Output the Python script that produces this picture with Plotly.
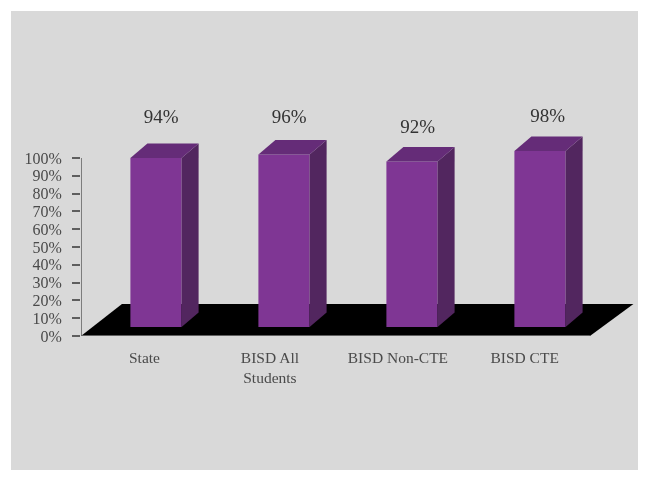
import plotly.graph_objects as go

categories = ["State", "BISD All<br>Students", "BISD Non-CTE", "BISD CTE"]
values = [94, 96, 92, 98]
value_labels = ["94%", "96%", "92%", "98%"]
y_ticks = list(range(0, 101, 10))
y_tick_labels = [f"{v}%" for v in y_ticks]

# layout of the pseudo-3D scene, in axis units
W, H = 649, 482
L, R, T, B = 81, 640, 100, 336
X_UNIT = 128.0       # px per category
Y_UNIT = 1.78        # px per percent
X0 = -(156 - L) / X_UNIT
X1 = (R - 156) / X_UNIT
Y1 = (B - T) / Y_UNIT
BAR_W = 0.40
DX = 17 / X_UNIT
DY = 14.5 / Y_UNIT
BASE = 5
TOP_SHIFT = 6
label_x_shift = [0.04, 0.04, 0.045, 0.06]
label_y = [122.2, 122.2, 116.8, 122.8]

FRONT, SIDE, TOP, FLOOR = "#7f3694", "#52265f", "#652c78", "#000000"
INK = "#4a4a4a"
AXIS = "#5e5e5e"
FONT = "Liberation Serif"

fig = go.Figure()

# y axis line, stops at the 100% tick
fig.add_trace(go.Scatter(
    x=[X0, X0], y=[0, 100], mode="lines", line=dict(color=AXIS, width=1.5),
    hoverinfo="skip", showlegend=False, cliponaxis=False))

# side and top faces
for i, v in enumerate(values):
    xr = i + BAR_W / 2
    xl = i - BAR_W / 2
    top = v + TOP_SHIFT
    fig.add_trace(go.Scatter(
        x=[xr, xr + DX, xr + DX, xr, xr], y=[BASE, BASE + DY, top + DY, top, BASE],
        mode="lines", fill="toself", fillcolor=SIDE, line=dict(color=SIDE, width=0),
        hoverinfo="skip", showlegend=False))
    fig.add_trace(go.Scatter(
        x=[xl, xl + DX, xr + DX, xr, xl], y=[top, top + DY, top + DY, top, top],
        mode="lines", fill="toself", fillcolor=TOP, line=dict(color=TOP, width=0),
        hoverinfo="skip", showlegend=False))

# front faces
fig.add_trace(go.Bar(
    x=list(range(len(values))), y=[v + TOP_SHIFT - BASE for v in values], base=BASE,
    width=BAR_W, marker=dict(color=FRONT, line=dict(width=0)),
    showlegend=False, customdata=values,
    hovertemplate="%{customdata}%<extra></extra>"))

# value labels
fig.add_trace(go.Scatter(
    x=[i + s for i, s in enumerate(label_x_shift)], y=label_y, text=value_labels,
    mode="text", textposition="middle center",
    textfont=dict(family=FONT, size=19, color="#333333"),
    hoverinfo="skip", showlegend=False))

fig.update_layout(
    width=W, height=H, autosize=False,
    margin=dict(l=L, r=W - R, t=T, b=H - B, pad=0),
    paper_bgcolor="#ffffff", plot_bgcolor="rgba(0,0,0,0)",
    font=dict(family=FONT, size=15, color=INK),
    shapes=[
        dict(type="rect", xref="paper", yref="paper", layer="below",
             x0=(11 - L) / (R - L), x1=(638 - L) / (R - L),
             y0=(B - 470) / (B - T), y1=(B - 11) / (B - T),
             fillcolor="#d9d9d9", line=dict(width=0)),
        dict(type="path", xref="x", yref="y", layer="below",
             path=f"M {X0} 0 L 3.39 0 L 3.73 18 L -0.266 18 Z",
             fillcolor=FLOOR, line=dict(width=0)),
        dict(type="line", xref="x", yref="y", layer="below",
             x0=X0, x1=3.39, y0=0, y1=0, line=dict(color="#808080", width=1.5)),
    ],
)
fig.update_xaxes(
    range=[X0, X1], tickmode="array",
    tickvals=[-0.09, -0.11 + 1, -0.11 + 2, -0.12 + 3], ticktext=categories,
    showgrid=False, zeroline=False, showline=False, ticks="", ticklabelstandoff=10,
    tickangle=0, tickfont=dict(family=FONT, size=15.5, color=INK))
fig.update_yaxes(
    range=[0, Y1], tickmode="array", tickvals=y_ticks, ticktext=y_tick_labels,
    showgrid=False, zeroline=False, showline=False,
    ticks="outside", ticklen=8, tickwidth=1.5, tickcolor=AXIS, ticklabelstandoff=7,
    tickfont=dict(family=FONT, size=16, color=INK))

fig.write_html("out.html", config=dict(displayModeBar=False),
               post_script="document.body.style.margin='0';"
                           "document.querySelector('.plotly-graph-div').style.filter='blur(0.6px)';")
